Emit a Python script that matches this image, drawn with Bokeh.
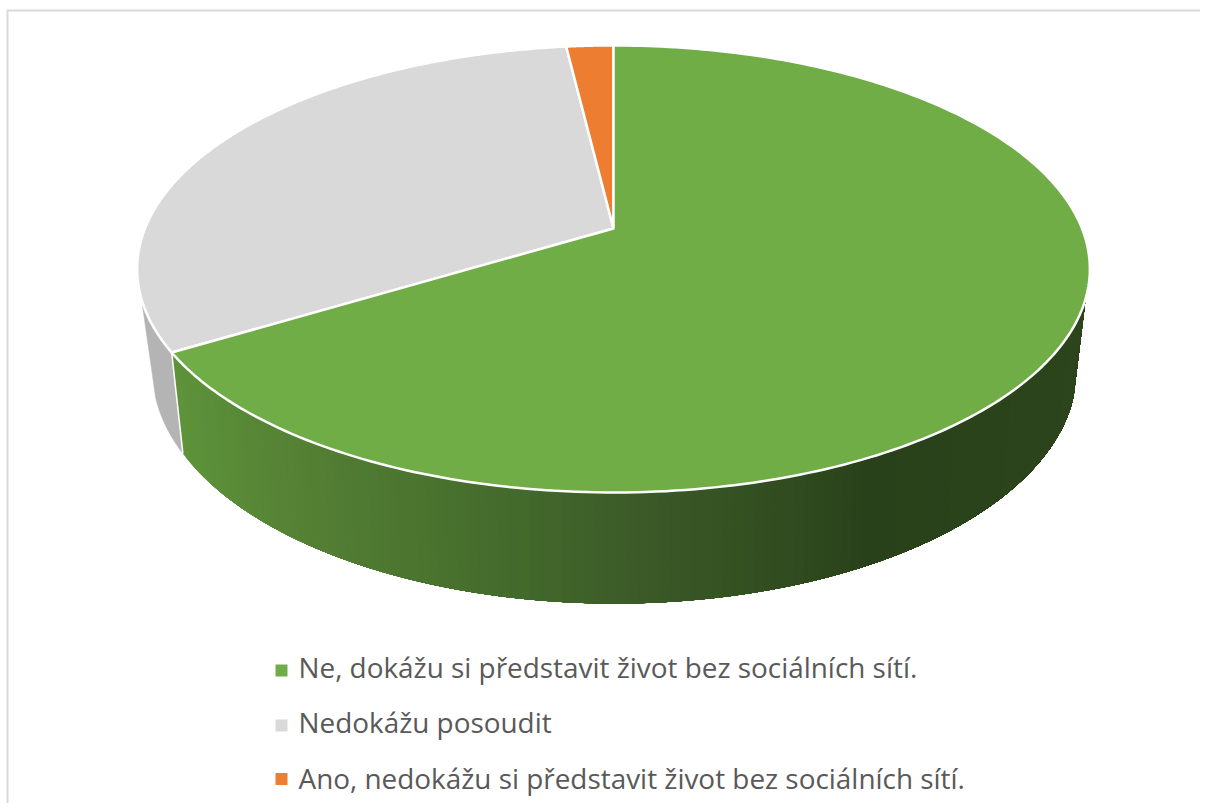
import numpy as np
from bokeh.plotting import figure
from bokeh.models import Range1d
from bokeh.core.properties import value
from bokeh.embed import file_html
from bokeh.resources import INLINE

# data
labels = ["Ne, dokážu si představit život bez sociálních sítí.",
          "Nedokážu posoudit",
          "Ano, nedokážu si představit život bez sociálních sítí."]
values = [66.3, 31.8, 1.9]
colors = ["#70AD47", "#D9D9D9", "#ED7D31"]
wall_gray = "#B4B4B4"
wall_x = [171, 300, 500, 620, 800, 860, 1090]
wall_r = [94, 84, 68, 60, 47, 41, 45]
wall_g = [148, 128, 107, 92, 74, 65, 69]
wall_b = [58, 52, 44, 40, 31, 26, 28]
legend_square_y = [670, 725, 778.5]
legend_text_y = [666, 721.5, 777]

W, H = 1200, 803
p = figure(width=W, height=H, x_range=Range1d(0, W), y_range=Range1d(H, 0),
           output_backend="svg", toolbar_location=None, min_border=0,
           outline_line_color=None, background_fill_color="white",
           border_fill_color="white")
p.axis.visible = False
p.grid.visible = False


def project(a, cx, cy, A, B, k):
    u, v = np.sin(a), np.cos(a)
    w = 1 + k * v
    return cx + A * u / w, cy - B * v / w


def top(a):
    return project(a, 613, 228, 468.5, 216.2, 0.181)


def bottom(a):
    return project(a, 614, 323.4, 452.7, 223.7, 0.2)


# frame
p.line([1208, 7, 7], [10, 10, 811], line_color="#D9D9D9", line_width=2)

cum = np.cumsum([0] + values) / sum(values) * 2 * np.pi
vis_start, vis_end = np.radians(107.8), np.radians(252)

# side wall: gray part
a = np.linspace(cum[1], vis_end, 30)
tx, ty = top(a)
bx, by = bottom(a)
p.patch(list(tx) + list(bx[::-1]), list(ty) + list(by[::-1]),
        fill_color=wall_gray, line_color=wall_gray, line_width=0.5)

# side wall: green part as shaded bands, each painted over the next so no seams show
edges = np.linspace(cum[1], vis_start, 121)
xs, ys, cols = [], [], []
for a0 in edges[:-1]:
    seg = np.linspace(a0, vis_start, 60)
    tx, ty = top(seg)
    bx, by = bottom(seg)
    xm = (top(a0)[0] + bottom(a0)[0]) / 2
    c = [int(round(np.interp(xm, wall_x, ch))) for ch in (wall_r, wall_g, wall_b)]
    xs.append(list(tx) + list(bx[::-1]))
    ys.append(list(ty) + list(by[::-1]))
    cols.append("#%02x%02x%02x" % tuple(c))
p.patches(xs, ys, fill_color=cols, line_color=None)

# divider between the wall parts
tx, ty = top(cum[1])
bx, by = bottom(cum[1])
p.line([tx, bx], [ty, by], line_color="white", line_width=1.5)

# top faces
for i in [1, 2, 0]:
    a = np.linspace(cum[i], cum[i + 1], 240)
    ex, ey = top(a)
    # apex = projected centre of the circle
    p.patch([613] + list(ex), [228] + list(ey), fill_color=colors[i],
            line_color="white", line_width=2.5, line_join="round")

# legend
p.scatter([281, 281, 281], legend_square_y, marker="square", size=12,
          color=colors, line_color=None)
p.text([298, 298, 298], legend_text_y, text=labels, text_font=value("Open Sans"),
       text_font_size="27.9px", text_color="#595959", text_baseline="middle",
       text_align="left")

open("out.html", "w").write(file_html(p, INLINE))
